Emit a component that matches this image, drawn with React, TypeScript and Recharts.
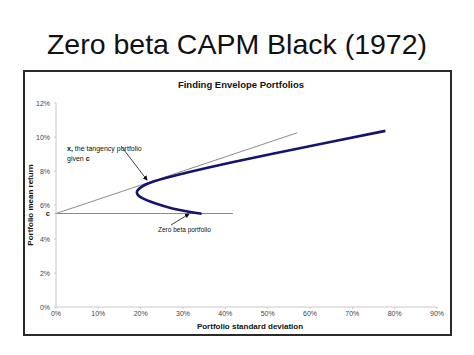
import { Line, LineChart, XAxis, YAxis } from 'recharts';

// efficient frontier (hyperbola), in %
const frontierSigma = [34.4, 27.5, 23.4, 20.4, 19.1, 20.4, 23.2, 29.1, 39.5, 50.9, 64.8, 77.8];
const frontierMu = [5.48, 5.8, 6.1, 6.4, 6.75, 7.1, 7.4, 7.8, 8.4, 9.0, 9.7, 10.36];

// tangent line from c through x
const tangentSigma = [0, 57];
const tangentMu = [5.5, 10.25];

// horizontal line at c
const cLineSigma = [0, 41.8];
const cLineMu = [5.5, 5.5];

const xTicks = [0, 10, 20, 30, 40, 50, 60, 70, 80, 90];
const yTicks = [0, 2, 4, 5.5, 6, 8, 10, 12];
const C_VALUE = 5.5;

const FONT = '"Liberation Sans", Arial, sans-serif';
const NAVY = '#14146e';
const GREY_LINE = '#8a8a8a';

const toRows = (xs: number[], ys: number[]) => xs.map((x, i) => ({ x, y: ys[i] }));

function YTick(props: any) {
  const { x, y, payload } = props;
  const isC = payload.value === C_VALUE;
  return (
    <text
      x={x - 2}
      y={y}
      dy={2.5}
      textAnchor="end"
      fontSize={isC ? 7.5 : 7}
      fontWeight={isC ? 700 : 400}
      fill={isC ? '#222' : '#444'}
      fontFamily={FONT}
    >
      {isC ? 'c' : `${payload.value}%`}
    </text>
  );
}

export default function App() {
  const frontier = toRows(frontierSigma, frontierMu);
  const tangent = toRows(tangentSigma, tangentMu);
  const cLine = toRows(cLineSigma, cLineMu);

  return (
    <div style={{ position: 'relative', width: 474, height: 355, background: '#fff', fontFamily: FONT }}>
      <style>{'body{margin:0}'}</style>
      <div
        style={{
          position: 'absolute',
          left: 0,
          top: 27,
          width: 474,
          textAlign: 'center',
          fontSize: 28.5,
          color: '#111',
          lineHeight: '34px',
        }}
      >
        Zero beta CAPM Black (1972)
      </div>
      {/* chart frame */}
      <div
        style={{
          position: 'absolute',
          left: 23,
          top: 70,
          width: 425,
          height: 262,
          border: '2px solid #2a2a2a',
        }}
      />
      <div style={{ position: 'absolute', left: 0, top: 0 }}>
        <LineChart width={474} height={355} margin={{ top: 103, right: 37, left: 26, bottom: 28 }}>
          <XAxis
            type="number"
            dataKey="x"
            domain={[0, 90]}
            ticks={xTicks}
            interval={0}
            tickFormatter={(v) => `${v}%`}
            tick={{ fontSize: 7, fill: '#444', fontFamily: FONT }}
            stroke="#c8c8c8"
            tickSize={2}
            height={20}
            allowDataOverflow
          />
          <YAxis
            type="number"
            dataKey="y"
            domain={[0, 12]}
            ticks={yTicks}
            interval={0}
            tick={<YTick />}
            stroke="#c8c8c8"
            tickSize={2}
            width={30}
            allowDataOverflow
          />
          <Line
            data={cLine}
            dataKey="y"
            type="linear"
            stroke={GREY_LINE}
            strokeWidth={1}
            dot={false}
            isAnimationActive={false}
          />
          <Line
            data={tangent}
            dataKey="y"
            type="linear"
            stroke={GREY_LINE}
            strokeWidth={1}
            dot={false}
            isAnimationActive={false}
          />
          <Line
            data={frontier}
            dataKey="y"
            type="natural"
            stroke={NAVY}
            strokeWidth={2.6}
            dot={false}
            isAnimationActive={false}
          />
        </LineChart>
      </div>
      {/* titles and annotations */}
      <svg width={474} height={355} style={{ position: 'absolute', left: 0, top: 0, pointerEvents: 'none' }}>
        <defs>
          <marker id="ah" markerWidth="6" markerHeight="6" refX="5" refY="3" orient="auto">
            <path d="M0,0 L6,3 L0,6 z" fill="#111" />
          </marker>
        </defs>
        <text x={241} y={87.5} textAnchor="middle" fontSize={9.5} fontWeight={700} fill="#111" fontFamily={FONT}>
          Finding Envelope Portfolios
        </text>
        <text x={250} y={329} textAnchor="middle" fontSize={8} fontWeight={700} fill="#111" fontFamily={FONT}>
          Portfolio standard deviation
        </text>
        <text
          x={0}
          y={0}
          transform="translate(33,205) rotate(-90)"
          textAnchor="middle"
          fontSize={8}
          fontWeight={700}
          fill="#111"
          fontFamily={FONT}
        >
          Portfolio mean return
        </text>
        <text x={67} y={151} fontSize={7} fill="#111" fontFamily={FONT}>
          <tspan fontWeight={700}>x,</tspan> the tangency portfolio
        </text>
        <text x={67} y={161} fontSize={7} fill="#111" fontFamily={FONT}>
          given <tspan fontWeight={700}>c</tspan>
        </text>
        <line x1={121} y1={146} x2={147} y2={180} stroke="#111" strokeWidth={0.8} markerEnd="url(#ah)" />
        <text x={158} y={232} fontSize={6.5} fill="#111" fontFamily={FONT}>
          Zero beta portfolio
        </text>
        <line x1={171} y1={225} x2={189} y2={214} stroke="#111" strokeWidth={0.8} markerEnd="url(#ah)" />
      </svg>
    </div>
  );
}
